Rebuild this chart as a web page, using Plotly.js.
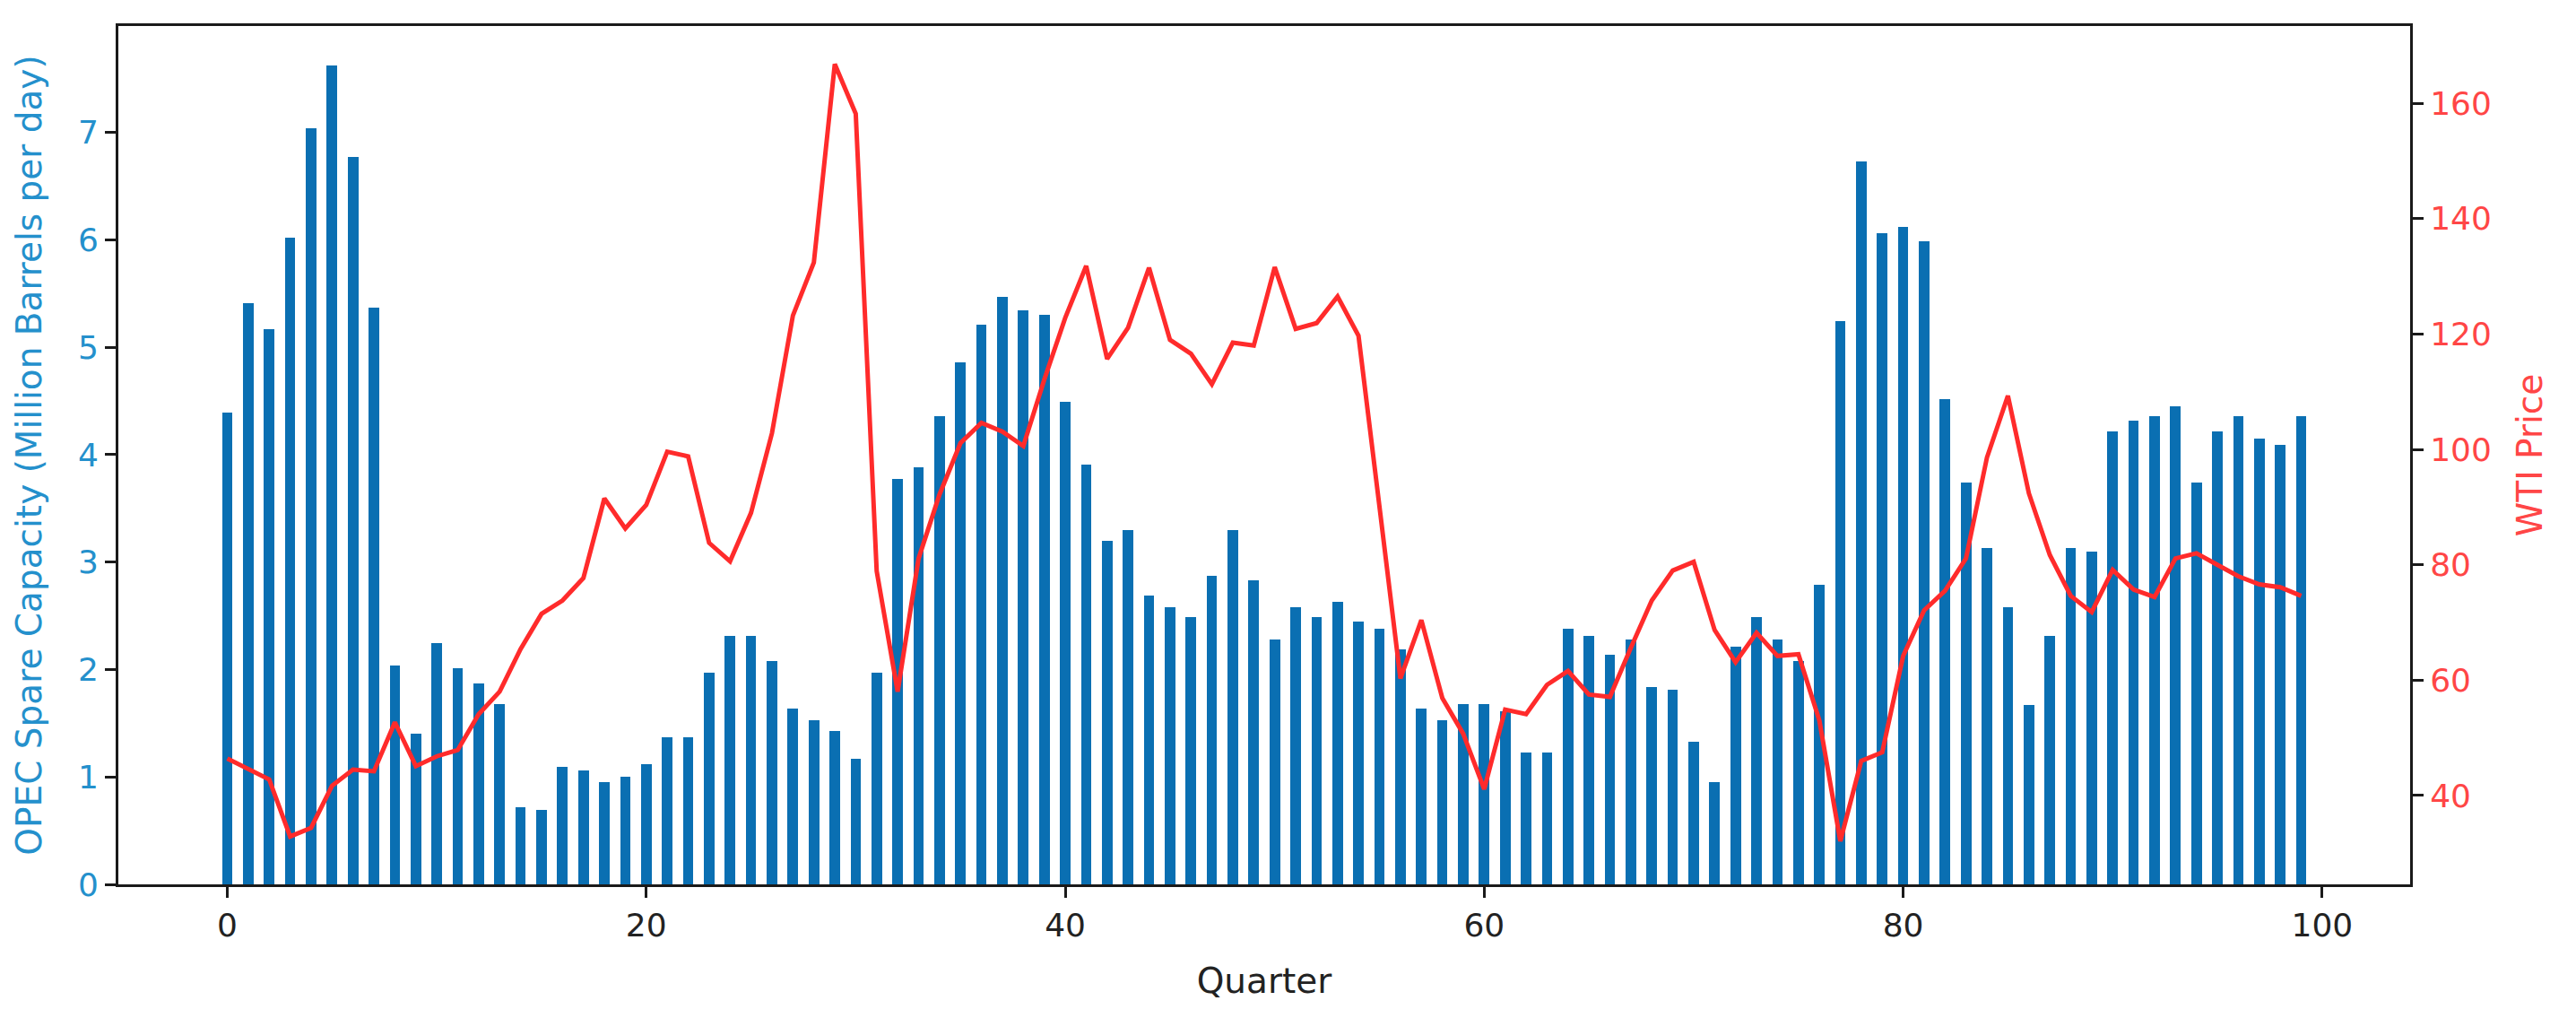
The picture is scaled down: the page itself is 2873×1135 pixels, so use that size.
<!DOCTYPE html>
<html>
<head>
<meta charset="utf-8">
<script src="https://cdn.plot.ly/plotly-3.0.1.min.js"></script>
<style>
  html, body { margin: 0; padding: 0; background: #ffffff; }
  #chart { width: 2873px; height: 1135px; }
</style>
</head>
<body>
<div id="chart"></div>
<script>
// Quarter index 0..99
const quarters = Array.from({length: 100}, (_, i) => i);

// OPEC spare capacity (million barrels per day)
const spareCapacity = [
  4.39, 5.41, 5.17, 6.02, 7.04, 7.62, 6.77, 5.37, 2.04, 1.40,
  2.25, 2.01, 1.87, 1.68, 0.72, 0.69, 1.09, 1.06, 0.95, 1.00,
  1.12, 1.37, 1.37, 1.97, 2.31, 2.31, 2.08, 1.64, 1.53, 1.43,
  1.17, 1.97, 3.77, 3.88, 4.36, 4.86, 5.21, 5.47, 5.34, 5.30,
  4.49, 3.91, 3.20, 3.30, 2.69, 2.58, 2.49, 2.87, 3.30, 2.83,
  2.28, 2.58, 2.49, 2.63, 2.45, 2.38, 2.19, 1.64, 1.53, 1.68,
  1.68, 1.61, 1.23, 1.23, 2.38, 2.31, 2.14, 2.28, 1.84, 1.81,
  1.33, 0.95, 2.21, 2.49, 2.28, 2.08, 2.79, 5.24, 6.73, 6.06,
  6.12, 5.99, 4.52, 3.74, 3.13, 2.58, 1.67, 2.31, 3.13, 3.10,
  4.22, 4.32, 4.36, 4.45, 3.74, 4.22, 4.36, 4.15, 4.09, 4.36
];

// WTI price
const wtiPrice = [
  46.4, 44.7, 42.8, 32.9, 34.4, 41.7, 44.5, 44.2, 52.7, 45.1,
  46.8, 47.9, 54.1, 58.0, 65.4, 71.5, 73.8, 77.7, 91.5, 86.3,
  90.4, 99.6, 98.8, 83.8, 80.6, 89.0, 102.8, 123.2, 132.4, 166.8,
  158.2, 78.9, 58.0, 81.1, 92.2, 101.1, 104.6, 103.1, 100.6, 112.1,
  122.8, 131.8, 115.7, 121.1, 131.5, 119.0, 116.6, 111.3, 118.5, 118.0,
  131.6, 120.9, 121.9, 126.5, 119.7, 90.1, 60.3, 70.4, 56.9, 50.7,
  41.1, 54.9, 54.1, 59.2, 61.6, 57.5, 57.1, 65.6, 73.8, 79.0,
  80.5, 68.7, 63.1, 68.2, 64.2, 64.5, 53.0, 32.1, 46.0, 47.5,
  64.2, 72.1, 75.5, 81.1, 98.6, 109.3, 92.4, 81.7, 74.6, 71.8,
  79.1, 75.7, 74.4, 81.1, 82.0, 80.0, 78.0, 76.6, 76.1, 74.6
];

const FONT = 'DejaVu Sans, Liberation Sans, sans-serif';
const BLUE_BAR = '#0a6fb2';
const BLUE_TXT = '#2490cc';
const RED_LINE = '#ff2b2b';
const RED_TXT = '#ff4646';

const traces = [
  {
    type: 'bar',
    x: quarters,
    y: spareCapacity,
    width: 0.5,
    marker: {color: BLUE_BAR, line: {width: 0}},
    name: 'OPEC Spare Capacity',
    yaxis: 'y',
    hoverinfo: 'x+y'
  },
  {
    type: 'scatter',
    mode: 'lines',
    x: quarters,
    y: wtiPrice,
    line: {color: RED_LINE, width: 5},
    name: 'WTI Price',
    yaxis: 'y2'
  }
];

const axisCommon = {
  showline: true,
  linecolor: '#1a1a1a',
  linewidth: 3,
  ticks: 'outside',
  ticklen: 12,
  tickwidth: 3,
  tickcolor: '#1a1a1a',
  showgrid: false,
  zeroline: false
};

const layout = {
  width: 2873,
  height: 1135,
  paper_bgcolor: '#ffffff',
  plot_bgcolor: '#ffffff',
  showlegend: false,
  bargap: 0,
  margin: {l: 132, r: 185, t: 29, b: 149, pad: 0},
  font: {family: FONT, size: 36, color: '#222222'},
  xaxis: Object.assign({}, axisCommon, {
    range: [-5.2, 104.2],
    tick0: 0,
    dtick: 20,
    mirror: true,
    tickfont: {family: FONT, size: 36, color: '#222222'},
    title: {text: 'Quarter', font: {family: FONT, size: 39, color: '#222222'}, standoff: 29}
  }),
  yaxis: Object.assign({}, axisCommon, {
    range: [0, 7.99],
    tick0: 0,
    dtick: 1,
    mirror: false,
    tickfont: {family: FONT, size: 36, color: BLUE_TXT},
    title: {text: 'OPEC Spare Capacity (Million Barrels per day)', font: {family: FONT, size: 39, color: BLUE_TXT}, standoff: 29}
  }),
  yaxis2: Object.assign({}, axisCommon, {
    overlaying: 'y',
    side: 'right',
    range: [24.6, 173.4],
    tick0: 0,
    dtick: 20,
    tickfont: {family: FONT, size: 36, color: RED_TXT},
    title: {text: 'WTI Price', font: {family: FONT, size: 39, color: RED_TXT}, standoff: 30}
  })
};

Plotly.newPlot('chart', traces, layout, {staticPlot: true, displayModeBar: false});
</script>
</body>
</html>
